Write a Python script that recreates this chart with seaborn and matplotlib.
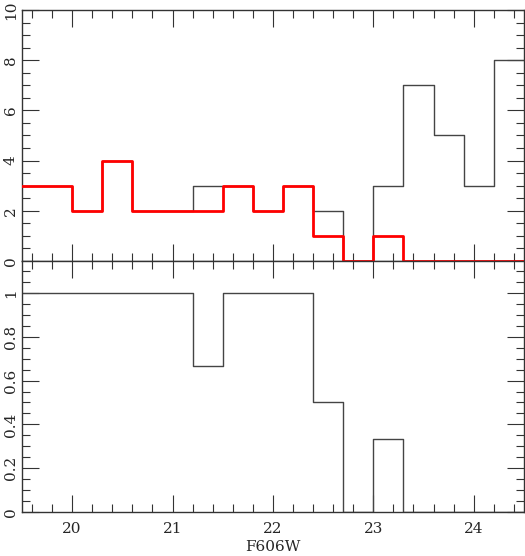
"""
Step histograms of F606W magnitudes: all objects vs. selected ones, and their ratio.
"""
import matplotlib
matplotlib.use("Agg")
import matplotlib.pyplot as plt
import numpy as np
import pandas as pd
import seaborn as sns
from matplotlib.ticker import MultipleLocator, FuncFormatter

# 0.3 mag bins in F606W
bin_edges = [19.4, 19.7, 20.0, 20.3, 20.6, 20.9, 21.2, 21.5, 21.8, 22.1,
             22.4, 22.7, 23.0, 23.3, 23.6, 23.9, 24.2, 24.5]
all_counts = [3, 3, 2, 4, 2, 2, 3, 3, 2, 3, 2, 0, 3, 7, 5, 3, 8]
sel_counts = [3, 3, 2, 4, 2, 2, 2, 3, 2, 3, 1, 0, 1, 0, 0, 0, 0]


def build_frame():
    """
    Put bin centres, counts and the selected/all fraction in one DataFrame.
    """
    edges = np.array(bin_edges)
    centers = (edges[:-1] + edges[1:]) / 2
    n_all = np.array(all_counts, dtype=float)
    n_sel = np.array(sel_counts, dtype=float)
    ratio = np.divide(n_sel, n_all, out=np.zeros_like(n_sel), where=n_all > 0)
    return pd.DataFrame({"F606W": centers, "all": n_all, "sel": n_sel, "ratio": ratio})


def style_axis(ax, major_y, minor_y):
    ax.set_xlim(19.5, 24.5)
    ax.xaxis.set_major_locator(MultipleLocator(1))
    ax.xaxis.set_minor_locator(MultipleLocator(0.2))
    ax.yaxis.set_major_locator(MultipleLocator(major_y))
    ax.yaxis.set_minor_locator(MultipleLocator(minor_y))
    ax.yaxis.set_major_formatter(FuncFormatter(lambda v, p: f"{v:g}"))
    ax.tick_params(which="both", direction="in", top=True, right=True, width=0.8, color="#333333")
    ax.tick_params(which="major", length=12)
    ax.tick_params(which="minor", length=6)
    ax.tick_params(axis="y", pad=3)
    ax.tick_params(axis="x", pad=7)
    for lab in ax.get_yticklabels():
        lab.set_rotation(90)
        lab.set_va("center")
    for sp in ax.spines.values():
        sp.set_linewidth(1)
        sp.set_color("#333333")
    ax.set_ylabel("")


df = build_frame()

sns.set_style("ticks")
plt.rcParams["font.family"] = ["DejaVu Serif"]
plt.rcParams["font.size"] = 11

fig = plt.figure(figsize=(5.25, 5.56), dpi=100)
ax_top = fig.add_axes([0.0419, 0.5306, 0.956, 0.4514])
ax_bot = fig.add_axes([0.0419, 0.0791, 0.956, 0.4515])

sns.histplot(data=df, x="F606W", weights="all", bins=bin_edges, element="step",
             fill=False, color="#444444", linewidth=1, ax=ax_top, zorder=2)
sns.histplot(data=df, x="F606W", weights="sel", bins=bin_edges, element="step",
             fill=False, color="#ff0000", linewidth=2, ax=ax_top, zorder=3)
ax_top.set_ylim(0, 10)
style_axis(ax_top, 2, 0.5)
ax_top.tick_params(axis="x", labelbottom=False)
ax_top.set_xlabel("")

sns.histplot(data=df, x="F606W", weights="ratio", bins=bin_edges, element="step",
             fill=False, color="#444444", linewidth=1, ax=ax_bot)
ax_bot.set_ylim(0, 1.146)
style_axis(ax_bot, 0.2, 0.05)
ax_bot.set_xlabel("F606W", labelpad=3)

fig.savefig("out.png", dpi=100)
